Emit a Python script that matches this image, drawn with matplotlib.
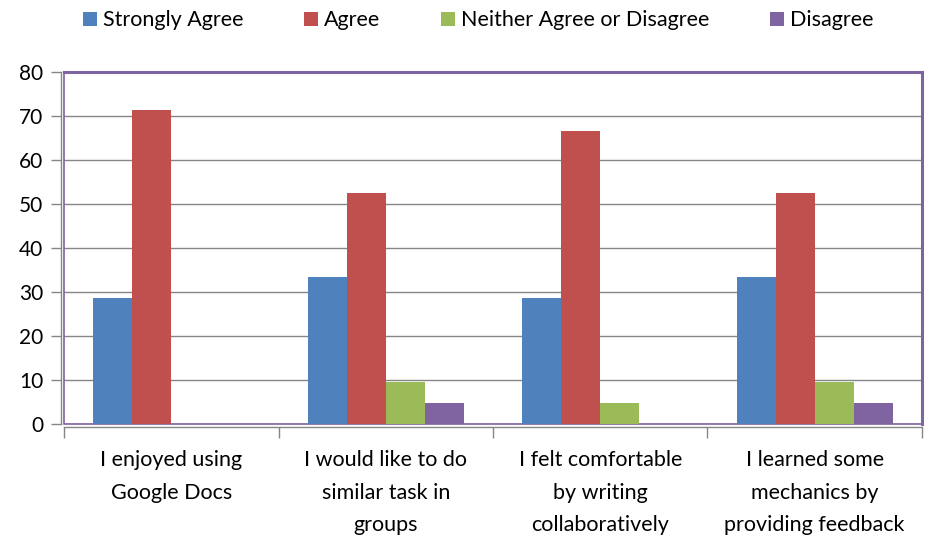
import matplotlib
matplotlib.use("Agg")
import matplotlib.pyplot as plt
from matplotlib.patches import Rectangle, Patch
import numpy as np

categories = ["I enjoyed using\nGoogle Docs",
              "I would like to do\nsimilar task in\ngroups",
              "I felt comfortable\nby writing\ncollaboratively",
              "I learned some\nmechanics by\nproviding feedback"]
series_names = ["Strongly Agree", "Agree", "Neither Agree or Disagree", "Disagree"]
strongly_agree = [28.6, 33.3, 28.6, 33.3]
agree = [71.4, 52.4, 66.7, 52.4]
neither = [0, 9.5, 4.8, 9.5]
disagree = [0, 4.8, 0, 4.8]
colors = ["#4F81BD", "#C0504D", "#9BBB59", "#8064A2"]
yticks = [0, 10, 20, 30, 40, 50, 60, 70, 80]

plt.rcParams['font.family'] = ['Lato', 'DejaVu Sans']

fig = plt.figure(figsize=(9.25, 5.39), dpi=100)
ax = fig.add_axes([64/925, (539-424)/539, (922-64)/925, (424-72)/539])

series = [strongly_agree, agree, neither, disagree]
n = len(categories)
x = np.arange(n)
w = 1/5.5
for i, (vals, c) in enumerate(zip(series, colors)):
    offs = (i - 1.5) * w
    ax.bar(x + offs, vals, width=w, color=c, linewidth=0, zorder=3)

ax.set_xlim(-0.5, n - 0.5)
ax.set_ylim(0, 80)
ax.set_yticks(yticks)
ax.tick_params(axis='y', direction='out', length=7, width=1, color='#868686',
               labelsize=15, pad=6, labelcolor='black')
ax.set_xticks(np.arange(-0.5, n, 1.0))
ax.set_xticklabels([])
ax.tick_params(axis='x', which='major', direction='out', length=8, width=1, color='#868686')
for xi, lab in zip(x, categories):
    ax.annotate(lab, xy=(xi, 0), xycoords=('data', 'axes fraction'),
                xytext=(0, -19), textcoords='offset points', ha='center', va='top',
                fontsize=15.5, linespacing=1.78, annotation_clip=False)
ax.grid(axis='y', color='#868686', linewidth=1, zorder=0)
ax.set_axisbelow(True)

for s in ['top', 'right']:
    ax.spines[s].set_color('#8064A2')
    ax.spines[s].set_linewidth(2.2)
for s in ['left', 'bottom']:
    ax.spines[s].set_color('#868686')
    ax.spines[s].set_linewidth(1)
    ax.spines[s].set_position(('outward', 2))
ax.add_patch(Rectangle((0, 0), 1, 1, transform=ax.transAxes, fill=False,
                       edgecolor='#8064A2', linewidth=1.2, zorder=2, clip_on=False))

handles = [Patch(facecolor=c, edgecolor='none') for c in colors]
fig.legend(handles, series_names, loc='center', bbox_to_anchor=(0.517, 0.962), ncol=4,
           frameon=False, fontsize=15.5, handlelength=0.65, handleheight=0.65,
           handletextpad=0.3, columnspacing=2.8)

fig.savefig("out.png", dpi=100)
